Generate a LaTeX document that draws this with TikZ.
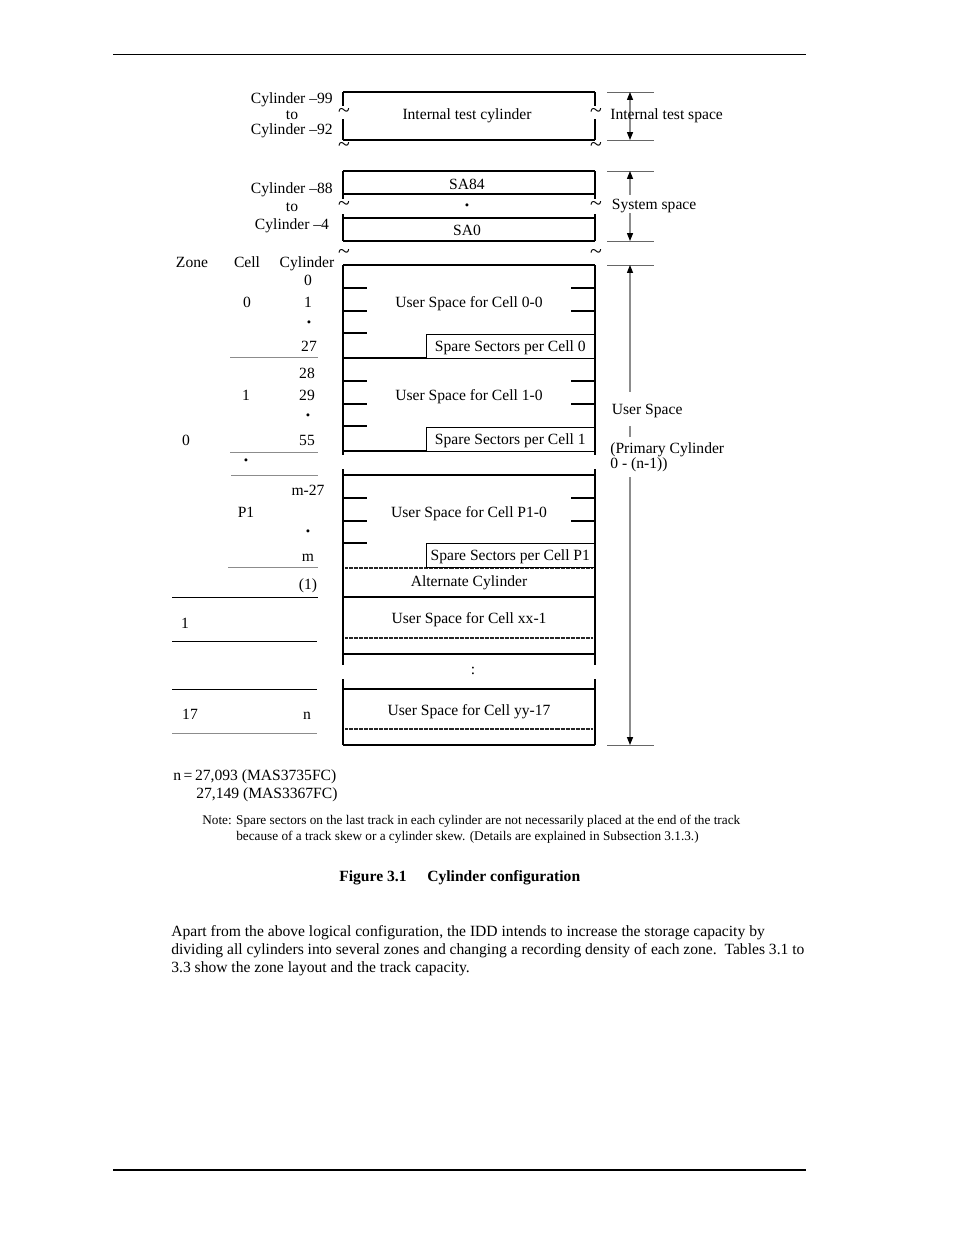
\documentclass[tikz,border=0pt]{standalone}
\usepackage{fontspec}
\setmainfont{Liberation Serif}
\usetikzlibrary{arrows.meta,positioning}

\begin{document}
\begin{tikzpicture}[x=0.6415pt, y=-0.6415pt,
  font=\fontsize{10}{11}\selectfont,
  >={Triangle[length=5pt,width=3.8pt,color=black]},
  txt/.style={inner sep=0pt, text height=6.6pt, text depth=0pt},
  gap/.style={txt, fill=white, inner xsep=1pt},
  tld/.style={inner sep=0pt, font=\fontsize{14}{14}\selectfont},
  dot/.style={inner sep=0pt, font=\fontsize{8}{8}\selectfont},
  side/.style={line width=1.3pt},
  rule/.style={line width=0.9pt},
  colrule/.style={line width=0.6pt},
  softrule/.style={colrule, black!45},
  dimtick/.style={line width=0.6pt, black!60},
  dimline/.style={<->, line width=0.7pt, black!45},
  dotrule/.style={line width=1.6pt, dash pattern=on 0.4pt off 0.4pt, black!85},
  sparebox/.style={draw, line width=0.9pt, fill=white, minimum width=107.8pt, minimum height=15.4pt,
    inner sep=0pt, anchor=north east, text height=6.6pt, text depth=0pt}]
  \useasboundingbox[fill=white] (0,0) rectangle (954,1235);
  \draw[line width=0.6pt] (113,54) -- (806,54);
  \draw[line width=1.2pt] (113,1170) -- (806,1170);

  % internal test cylinder
  \draw[rule] (343,92) -- (595,92);
  \draw[rule] (343,140) -- (595,140);
  \draw[side] (343,92) -- (343,106) (343,119) -- (343,140);
  \draw[side] (595,92) -- (595,106) (595,119) -- (595,140);
  \node[txt, anchor=east] (cyl99) at (333,98) {Cylinder –99};
  \node[txt] (to1) at (292,114) {to};
  \node[txt, anchor=east] (cyl92) at (333,129) {Cylinder –92};
  \node[txt] (itcyl) at (467,114) {Internal test cylinder};
  \node[tld] (t1l) at (344,113) {\textasciitilde};
  \node[tld] (t1r) at (596,113) {\textasciitilde};
  \node[tld] (t2l) at (344,147) {\textasciitilde};
  \node[tld] (t2r) at (596,147) {\textasciitilde};

  % system space
  \draw[rule] (343,171) -- (595,171);
  \draw[rule] (343,194) -- (595,194);
  \draw[rule] (343,218) -- (595,218);
  \draw[rule] (343,241) -- (595,241);
  \draw[side] (343,171) -- (343,199) (343,214) -- (343,241);
  \draw[side] (595,171) -- (595,199) (595,214) -- (595,241);
  \node[txt, anchor=east] (cyl88) at (333,188) {Cylinder –88};
  \node[txt] (to2) at (292,206) {to};
  \node[txt] (cyl4) at (292,224) {Cylinder –4};
  \node[txt] (sa84) at (467,184) {SA84};
  \node[dot] (sadot) at (467,207) {\textbullet};
  \node[txt] (sa0) at (467,230) {SA0};
  \node[tld] (t3l) at (344,206) {\textasciitilde};
  \node[tld] (t3r) at (596,206) {\textasciitilde};
  \node[tld] (t4l) at (344,254) {\textasciitilde};
  \node[tld] (t4r) at (596,254) {\textasciitilde};

  % user space
  \draw[rule] (343,265) -- (595,265);
  \draw[side] (343,265) -- (343,455) (343,469) -- (343,665) (343,679) -- (343,745);
  \draw[side] (595,265) -- (595,455) (595,469) -- (595,665) (595,679) -- (595,745);
  \draw[rule] (343,358) -- (595,358);
  \draw[rule] (343,451) -- (595,451);
  \draw[rule] (343,475) -- (595,475);
  \draw[dotrule] (345,568) -- (593,568);
  \foreach \t/\c [count=\i] in {265/0-0, 358/1-0, 475/P1-0} {
    \draw[rule] (343,\t+23) -- (367,\t+23) (343,\t+46) -- (367,\t+46) (343,\t+68) -- (367,\t+68);
    \draw[rule] (571,\t+23) -- (595,\t+23) (571,\t+46) -- (595,\t+46);
    \node[txt] (us\i) at (469,\t+37) {User Space for Cell \c};
  }
  \node[sparebox] (sp1) at (595,334) {Spare Sectors per Cell 0};
  \node[sparebox] (sp2) at (595,427) {Spare Sectors per Cell 1};
  \node[sparebox] (sp3) at (595,543) {Spare Sectors per Cell P1};
  \node[txt] (alt) at (469,581) {Alternate Cylinder};
  \draw[rule] (343,597) -- (595,597);
  \node[txt] (usxx) at (469,618) {User Space for Cell xx-1};
  \draw[dotrule] (345,638) -- (593,638);
  \draw[rule] (343,654) -- (595,654);
  \node[txt] (vdots) at (473,669) {:};
  \draw[rule] (343,689) -- (595,689);
  \node[txt] (usyy) at (469,710) {User Space for Cell yy-17};
  \draw[dotrule] (345,729) -- (593,729);
  \draw[rule] (343,745) -- (595,745);

  % zone / cell / cylinder column
  \node[txt] (zone) at (192,262) {Zone};
  \node[txt] (cell) at (247,262) {Cell};
  \node[txt] (cyl) at (307,262) {Cylinder};
  \node[txt] (c0) at (308,280) {0};
  \node[txt] (cell0) at (247,302) {0};
  \node[txt] (c1) at (308,302) {1};
  \node[dot] (cd1) at (309,324) {\textbullet};
  \node[txt] (c27) at (309,346) {27};
  \draw[softrule] (230,357) -- (318,357);
  \node[txt] (c28) at (307,373) {28};
  \node[txt] (cell1) at (246,395) {1};
  \node[txt] (c29) at (307,395) {29};
  \node[dot] (cd2) at (308,417) {\textbullet};
  \node[txt] (zone0) at (186,440) {0};
  \node[txt] (c55) at (307,440) {55};
  \draw[softrule] (230,452) -- (318,452);
  \node[dot] (celldot) at (246,462) {\textbullet};
  \draw[softrule] (231,475) -- (318,475);
  \node[txt] (cm27) at (308,490) {m-27};
  \node[txt] (cellp1) at (246,512) {P1};
  \node[dot] (cd3) at (308,533) {\textbullet};
  \node[txt] (cm) at (308,556) {m};
  \draw[softrule] (228,567) -- (318,567);
  \node[txt] (calt) at (308,584) {(1)};
  \draw[colrule] (172,597) -- (318,597);
  \node[txt] (zone1) at (185,623) {1};
  \draw[colrule] (172,641) -- (317,641);
  \draw[colrule] (172,689) -- (317,689);
  \node[txt] (zone17) at (190,714) {17};
  \node[txt] (cn) at (307,714) {n};
  \draw[softrule] (172,733) -- (317,733);

  % dimension marks on the right
  \foreach \y in {92,140,171,241,265,745}
    \draw[dimtick] (607,\y) -- (654,\y);
  \coordinate (its-top) at (630,92);
  \coordinate (its-bot) at (630,140);
  \coordinate (ss-top) at (630,171);
  \coordinate (ss-bot) at (630,241);
  \coordinate (us-top) at (630,265);
  \coordinate (us-bot) at (630,745);
  \draw[dimline] (its-top) -- (its-bot);
  \draw[dimline] (ss-top) -- (ss-bot);
  \draw[dimline] (us-top) -- (us-bot);
  \fill[white] (620,437) rectangle (640,477);
  \node[txt, anchor=west] (itspace) at (610,114) {Internal test space};
  \node[gap, anchor=west, inner ysep=2.5pt] (sysspace) at (610,204) {System space};
  \node[gap, anchor=west, inner ysep=7.5pt] (userspace) at (610,409) {User Space};
  \node[txt, anchor=west] (primary) at (610,448) {(Primary Cylinder};
  \node[txt, anchor=west] (range) at (610,463) {0 - (n-1))};

  % notes and caption
  \node[txt, anchor=west] (nval1) at (173,775) {n\,=\,27,093 (MAS3735FC)};
  \node[txt, anchor=west] (nval2) at (196,793) {27,149 (MAS3367FC)};
  \node[txt, anchor=west, font=\fontsize{8.5}{9}\selectfont, text height=5.6pt] (note1) at (202,820)
    {Note: Spare sectors on the last track in each cylinder are not necessarily placed at the end of the track};
  \node[txt, anchor=west, font=\fontsize{8.5}{9}\selectfont, text height=5.6pt] (note2) at (236,836)
    {because of a track skew or a cylinder skew. (Details are explained in Subsection 3.1.3.)};
  \node[txt, anchor=west, font=\bfseries] (fignum) at (339,876) {Figure 3.1};
  \node[txt, anchor=west, font=\bfseries] (figname) at (427,876) {Cylinder configuration};

  % body text
  \node[txt, anchor=west] (par1) at (171,931)
    {Apart from the above logical configuration, the IDD intends to increase the storage capacity by};
  \node[txt, anchor=west] (par2) at (171,949)
    {dividing all cylinders into several zones and changing a recording density of each zone.\ \ Tables 3.1 to};
  \node[txt, anchor=west] (par3) at (171,967)
    {3.3 show the zone layout and the track capacity.};
\end{tikzpicture}
\end{document}
